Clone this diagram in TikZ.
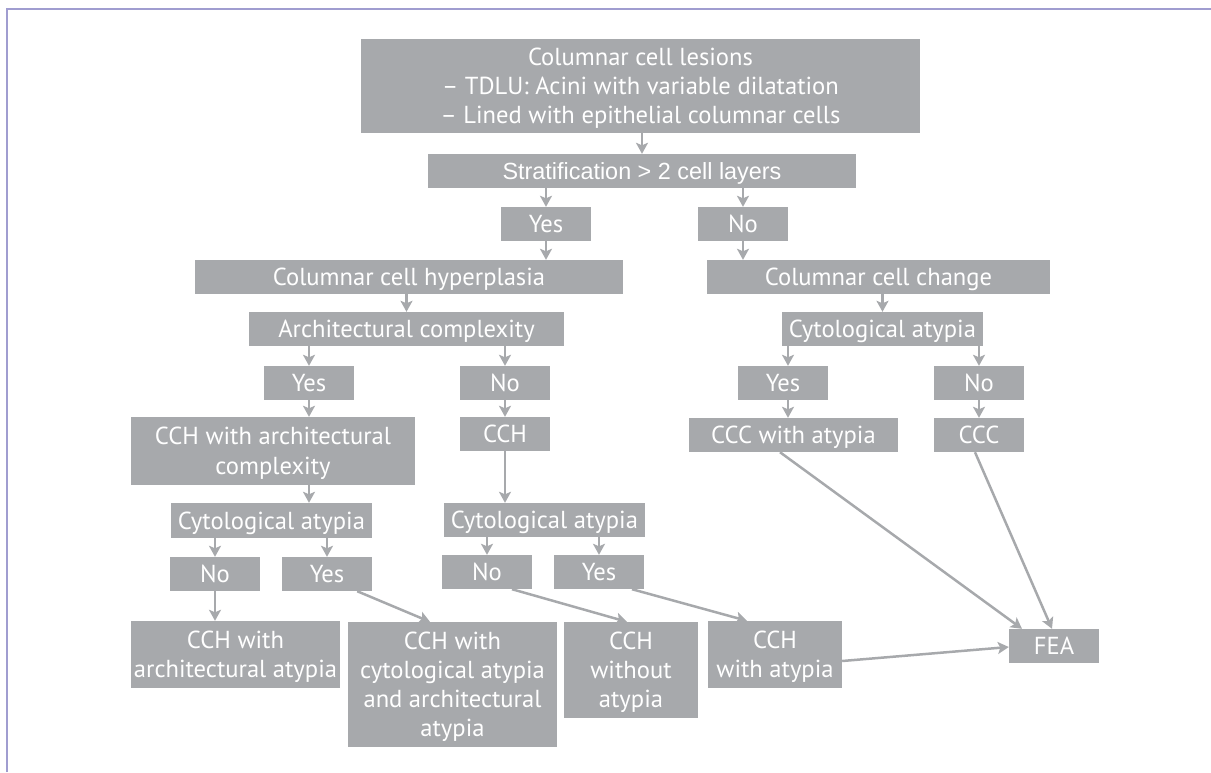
\documentclass[tikz,border=0pt]{standalone}
\usepackage{fontspec}
\setmainfont{PT Sans}
\newfontfamily\helv{Liberation Sans}
\usetikzlibrary{arrows.meta}
\definecolor{boxgray}{HTML}{A7A9AC}
\definecolor{framec}{HTML}{A09DD0}
\begin{document}
\begin{tikzpicture}[x=1pt,y=-1pt,
  box/.style={fill=boxgray, text=white, inner sep=0pt, align=center,
    font=\fontsize{24.6}{29.2}\selectfont},
  one/.style={text height=17pt, text depth=0pt},
  two/.style={text height=46.2pt, text depth=0pt},
  three/.style={text height=75.4pt, text depth=0pt},
  four/.style={text height=104.6pt, text depth=0pt},
  sz/.style 2 args={minimum width=#1pt, minimum height=#2pt},
  arr/.style={draw=boxgray, line width=2.5pt, -{Stealth[length=11pt,width=12pt,inset=2.5pt]}},
  frame/.style={draw=framec, line width=2pt}]
\useasboundingbox (0,0) rectangle (1211,772);
\draw[frame] (7,772) -- (7,8.5) -- (1211,8.5);

\node[box,three,sz={559}{94}] (les) at (640.5,86) {Columnar cell lesions\\– TDLU: Acini with variable dilatation\\– Lined with epithelial columnar cells};
\node[box,sz={428}{34},font=\helv\fontsize{23.4}{28}\selectfont,text height=16.8pt,text depth=0pt] (strat) at (642,171) {Stratification > 2 cell layers};
\node[box,one,sz={90}{34}] (yes1) at (546,224) {Yes};
\node[box,one,sz={90}{34}] (no1) at (743,224) {No};
\node[box,one,sz={428}{34}] (cchyp) at (409,277) {Columnar cell hyperplasia};
\node[box,one,sz={343}{34}] (ccchg) at (878.5,277) {Columnar cell change};
\node[box,one,sz={315}{34}] (arch) at (406.5,329) {Architectural complexity};
\node[box,one,sz={201}{34}] (cytoR) at (882.5,329) {Cytological atypia};
\node[box,one,sz={90}{34}] (yes2) at (309,383) {Yes};
\node[box,one,sz={90}{34}] (no2) at (505,383) {No};
\node[box,one,sz={90}{34}] (yes3) at (783,383) {Yes};
\node[box,one,sz={90}{34}] (no3) at (979,383) {No};
\node[box,two,sz={284}{68}] (cchac) at (273,451) {CCH with architectural\\complexity};
\node[box,one,sz={90}{34}] (cch) at (505,434) {CCH};
\node[box,one,sz={209}{34}] (cccat) at (793.5,435) {CCC with atypia};
\node[box,one,sz={90}{34}] (ccc) at (979,435) {CCC};
\node[box,one,sz={201}{35}] (cytoL) at (271.5,520.5) {Cytological atypia};
\node[box,one,sz={201}{34}] (cytoM) at (544.5,520) {Cytological atypia};
\node[box,one,sz={90}{34}] (noL) at (215,574) {No};
\node[box,one,sz={90}{34}] (yesL) at (327,574) {Yes};
\node[box,one,sz={90}{34}] (noM) at (487,572) {No};
\node[box,one,sz={90}{34}] (yesM) at (599,572) {Yes};
\node[box,two,sz={209}{67}] (cchaa) at (235.5,654.5) {CCH with\\architectural atypia};
\node[box,four,sz={209}{125}] (cchcaa) at (452.5,684.5) {CCH with\\cytological atypia\\and architectural\\atypia};
\node[box,three,sz={134}{96}] (cchwo) at (631,670) {CCH\\without\\atypia};
\node[box,two,sz={134}{67}] (cchw) at (775,654.5) {CCH\\with atypia};
\node[box,one,sz={90}{34}] (fea) at (1054,646) {FEA};

\draw[arr] (strat.north |- les.south) -- (strat.north);
\draw[arr] (yes1.north |- strat.south) -- (yes1.north);
\draw[arr] (no1.north |- strat.south) -- (no1.north);
\draw[arr] (yes1.south) -- (yes1.south |- cchyp.north);
\draw[arr] (no1.south) -- (no1.south |- ccchg.north);
\draw[arr] (arch.north |- cchyp.south) -- (arch.north);
\draw[arr] (cytoR.north |- ccchg.south) -- (cytoR.north);
\draw[arr] (yes2.north |- arch.south) -- (yes2.north);
\draw[arr] (no2.north |- arch.south) -- (no2.north);
\draw[arr] ([xshift=5pt]yes3.north |- cytoR.south) -- ([xshift=5pt]yes3.north);
\draw[arr] (no3.north |- cytoR.south) -- (no3.north);
\draw[arr] (yes2.south) -- (yes2.south |- cchac.north);
\draw[arr] (no2.south) -- (no2.south |- cch.north);
\draw[arr] ([xshift=5pt]yes3.south) -- ([xshift=5pt]yes3.south |- cccat.north);
\draw[arr] (no3.south) -- (no3.south |- ccc.north);
\draw[arr] (yes2.south |- cchac.south) -- (yes2.south |- cytoL.north);
\draw[arr] (cch.south) -- (cch.south |- cytoM.north);
\draw[arr] (noL.north |- cytoL.south) -- (noL.north);
\draw[arr] (yesL.north |- cytoL.south) -- (yesL.north);
\draw[arr] (noM.north |- cytoM.south) -- (noM.north);
\draw[arr] (yesM.north |- cytoM.south) -- (yesM.north);
\draw[arr] (noL.south) -- (noL.south |- cchaa.north);
\draw[arr] ([xshift=-15pt]yesL.south east) -- ([xshift=-22.5pt]cchcaa.north);
\draw[arr] ([xshift=25pt]noM.south) -- ([xshift=-4pt]cchwo.north);
\draw[arr] ([xshift=33pt]yesM.south) -- ([xshift=-28pt]cchw.north);
\draw[arr] ([yshift=-6.5pt]cchw.east) -- ([yshift=-1pt]fea.west);
\draw[arr] ([xshift=-13.5pt]cccat.south) -- ([xshift=-32pt]fea.north);
\draw[arr] ([xshift=-4pt]ccc.south) -- ([xshift=-2pt]fea.north);
\end{tikzpicture}
\end{document}
